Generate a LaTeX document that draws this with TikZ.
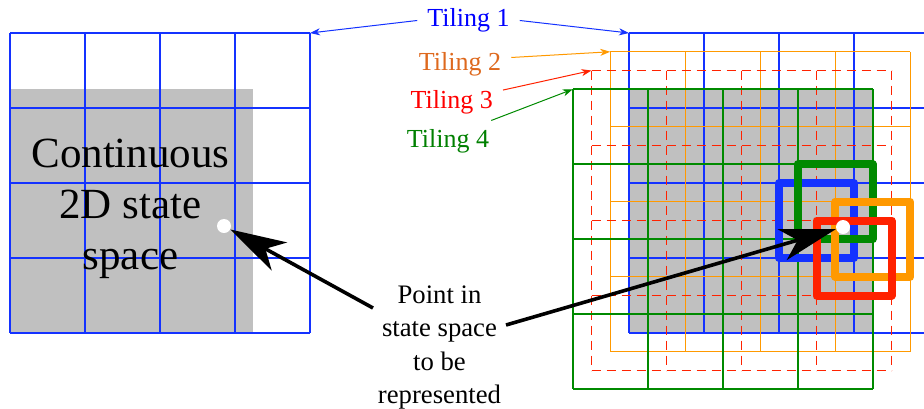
\documentclass[tikz,border=0pt]{standalone}
\usepackage{fontspec}
\setmainfont{Liberation Serif}
\usetikzlibrary{arrows.meta,calc}

\definecolor{tileblue}{RGB}{20,50,255}
\definecolor{tileorange}{RGB}{255,153,0}
\definecolor{tilered}{RGB}{255,34,0}
\definecolor{tilegreen}{RGB}{0,138,0}
\definecolor{spacegray}{RGB}{192,192,192}
\definecolor{labelblue}{RGB}{0,0,255}
\definecolor{labelorange}{RGB}{222,105,30}
\definecolor{labelred}{RGB}{255,0,0}
\definecolor{labelgreen}{RGB}{0,128,0}

% 4x4 tiling of 75pt cells whose top-left corner is the coordinate #1
\newcommand\tilinggrid[2]{%
  \foreach \k in {0,...,4}{%
    \draw[#2] ($(#1)+(75*\k,0)$) -- ++(0,300);
    \draw[#2] ($(#1)+(0,75*\k)$) -- ++(300,0);
  }%
}
% one highlighted tile: column #2, row #3 of the tiling at #1
\newcommand\activetile[4]{%
  \draw[activetile,#4] ($(#1)+(75*#2,75*#3)$) rectangle ++(75,75);
}

\begin{document}
\begin{tikzpicture}[x=1pt,y=-1pt,
  blueline/.style={tileblue,line width=1.2pt},
  orangeline/.style={tileorange,line width=1.2pt},
  redline/.style={tilered,line width=1.5pt,dash pattern=on 9pt off 6pt},
  greenline/.style={tilegreen,line width=2pt},
  activetile/.style={line width=8pt,line join=round},
  statespace/.style={fill=spacegray},
  pointdot/.style={circle,fill=white,inner sep=0pt,minimum size=14pt},
  bigarrow/.style={line width=3.6pt,-{Stealth[length=56pt,width=32pt,inset=16pt]}},
  thinarrow/.style={line width=1pt,-{Stealth[length=10pt,width=7pt,inset=3pt]}},
  tilinglabel/.style={font=\fontsize{26}{31}\selectfont,anchor=base,inner xsep=10pt,inner ysep=0pt},
]
\useasboundingbox (0,0) rectangle (924,408);
\clip (0,0) rectangle (924,408);

% tiling origins
\coordinate (leftO) at (10,33);
\coordinate (blueO) at (629,33);
\coordinate (orangeO) at ($(blueO)+(-18.75,18.75)$);
\coordinate (redO) at ($(blueO)+(-37.5,37.5)$);
\coordinate (greenO) at ($(blueO)+(-56.25,56.25)$);
\coordinate (leftNE) at ($(leftO)+(300,0)$);

% continuous state space
\fill[statespace] ($(leftO)+(0,56)$) rectangle ($(leftO)+(243,300)$);
\fill[statespace] ($(blueO)+(0,56)$) rectangle ($(blueO)+(243,300)$);

% single tiling on the left
\tilinggrid{leftO}{blueline}

% four overlapping tilings on the right
\tilinggrid{blueO}{blueline}
\tilinggrid{orangeO}{orangeline}
\tilinggrid{redO}{redline}
\tilinggrid{greenO}{greenline}

% tiles that contain the point
\activetile{blueO}{2}{2}{tileblue}
\activetile{greenO}{3}{1}{tilegreen}
\activetile{orangeO}{3}{2}{tileorange}
\activetile{redO}{3}{2}{tilered}

% the point in both views
\node[pointdot] (dotL) at ($(leftO)+(214,193)$) {};
\node[pointdot] (dotR) at ($(blueO)+(214,194)$) {};

% explanation of the point
\node[font=\fontsize{26.7}{33.5}\selectfont,align=center,inner sep=0pt] (pointtext) at (439.5,347.5)
  {Point in\\state space\\to be\\represented};
\coordinate (srcL) at (373,308);
\coordinate (srcR) at (506,325);
\draw[bigarrow] (srcL) -- (dotL);
\draw[bigarrow] (srcR) -- (dotR);

\node[font=\fontsize{43}{51}\selectfont,align=center,inner sep=0pt] (statetext) at (130.5,209)
  {Continuous\\2D state\\space};

% tiling labels
\node[tilinglabel,text=labelblue] (t1) at (468.5,26.7) {Tiling 1};
\node[tilinglabel,text=labelorange] (t2) at (460,70.7) {Tiling 2};
\node[tilinglabel,text=labelred] (t3) at (451.7,108.3) {Tiling 3};
\node[tilinglabel,text=labelgreen] (t4) at (448,147.7) {Tiling 4};

\draw[thinarrow,tileblue] (t1.west) -- (leftNE);
\draw[thinarrow,tileblue] (t1.east) -- (blueO);
\draw[thinarrow,tileorange] ([shift={(0,-7)}]t2.east) -- (orangeO);
\draw[thinarrow,tilered] (t3.north east) -- (redO);
\draw[thinarrow,tilegreen] ([shift={(-8,-9)}]t4.north east) -- (greenO);
\end{tikzpicture}
\end{document}
